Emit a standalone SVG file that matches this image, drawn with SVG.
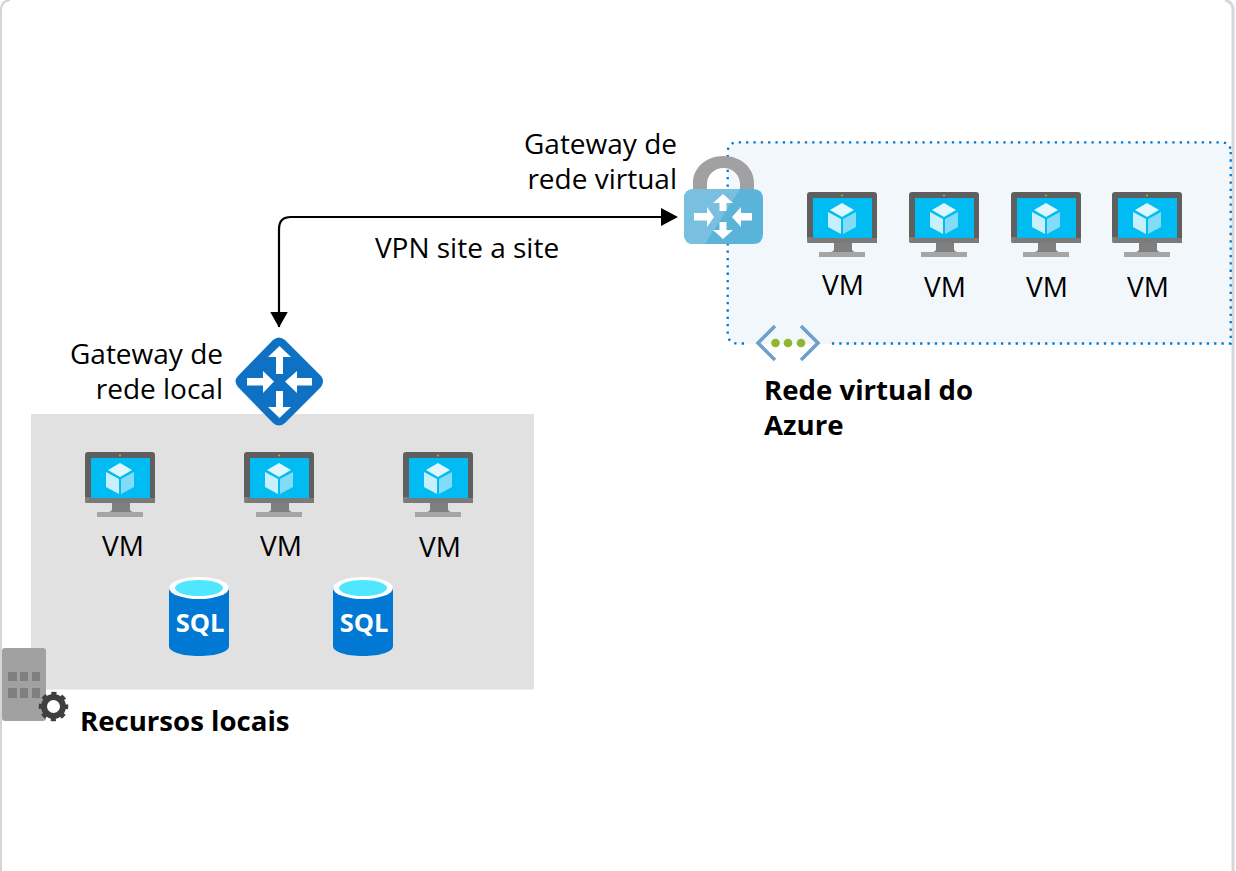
<svg xmlns="http://www.w3.org/2000/svg" width="1236" height="871" viewBox="0 0 1236 871">
<style>
text{font-family:"Open Sans","Noto Sans","Liberation Sans",sans-serif;font-size:28px;fill:#000}
.b{font-weight:700;font-size:27.600px}
.m{text-anchor:middle}
.e{text-anchor:end}
.dots{fill:none;stroke:#0078d4;stroke-width:2.300;stroke-dasharray:2.300 5.050}
</style>
<defs>
<marker id="arrow" markerUnits="userSpaceOnUse" markerWidth="18" markerHeight="18" refX="15.500" refY="9" orient="auto"><path d="M0 0L16 9L0 18Z" fill="#000"/></marker>
<g id="vm">
<rect x="0" y="0" width="70" height="51" rx="3" fill="#5f5f5f"/>
<path d="M0 45V48Q0 51 3 51H67Q70 51 70 48V46H6L12 46Z" fill="#808080"/>
<path d="M6 46L0 51H70V46Z" fill="#7a7a7a"/>
<rect x="6" y="6" width="59" height="40" fill="#00bcf2"/>
<path d="M27 51H45V57.500Q45 59 48 60H24Q27 59 27 57.500Z" fill="#7f7f7f"/>
<rect x="12" y="60" width="46" height="5" fill="#a5a5a5"/>
<circle cx="35" cy="3.500" r="1" fill="#9bbf3b"/>
<path d="M35 11L47 18L35 25L23 18Z" fill="#dff6fd"/>
<path d="M21 20L34 27V42L21 35Z" fill="#c8f0fc"/>
<path d="M49 20L36 27V42L49 35Z" fill="#83dcf7"/>
</g>
<g id="sql">
<path d="M0 10V69C0 75 13 79 30 79C47 79 60 75 60 69V10Z" fill="#0078d4"/>
<ellipse cx="30" cy="11" rx="30" ry="11" fill="#fff"/>
<ellipse cx="30" cy="11" rx="24" ry="8" fill="#50e6ff"/>
<text x="31" y="55" class="m" style="font-size:25.500px;font-weight:700;fill:#fff">SQL</text>
</g>
</defs>
<rect width="1236" height="871" fill="#fff"/>
<path d="M1 871V10Q1 1 10 0" fill="none" stroke="#d4d4dc" stroke-width="2"/>
<path d="M1225 0Q1233 2 1233 10V871" fill="none" stroke="#d8d8dc" stroke-width="3"/>

<g id="azure-vnet">
<rect x="728" y="142" width="503" height="202" rx="10" fill="#f2f7fc"/>
<path class="dots" d="M744 343.500H738Q727.700 343.500 727.700 333V152.500Q727.700 142.300 738 142.300H1221Q1230.700 142.300 1230.700 152"/>
<path class="dots" d="M1230.700 152V343.500H830"/>
<g id="vnet-icon">
<path d="M775 326L758 343L775 360M801 326L818 343L801 360" fill="none" stroke="#6c9fcb" stroke-width="3.500"/>
<circle cx="775.500" cy="343" r="4.300" fill="#8fb62e"/>
<circle cx="788" cy="343" r="4.300" fill="#8fb62e"/>
<circle cx="801" cy="343" r="4.300" fill="#8fb62e"/>
</g>
<text x="764" y="400" class="b">Rede virtual do</text>
<text x="764" y="435" class="b">Azure</text>
</g>

<g id="onprem">
<rect x="31" y="414" width="503" height="275.500" fill="#e1e1e1"/>
<g id="building-icon">
<rect x="2" y="648" width="44" height="73" rx="3" fill="#a1a1a1"/>
<path d="M8 672h9v9H8ZM20 672h8v9H20ZM32 672h8v9H32ZM8 688h9v10H8ZM20 688h8v10H20ZM32 688h8v10H32Z" fill="#7f7f7f"/>
<circle cx="53.500" cy="706.500" r="9.500" fill="#fff" stroke="#3f3f3f" stroke-width="6"/>
<circle cx="53.500" cy="706.500" r="13" fill="none" stroke="#3f3f3f" stroke-width="3.500" stroke-dasharray="5.100 5.110" stroke-dashoffset="2.550"/>
</g>
<text x="80" y="731" class="b">Recursos locais</text>
</g>

<g id="connectors">
<path d="M662 217H291Q279 217 279 229V327" fill="none" stroke="#000" stroke-width="2.200" marker-end="url(#arrow)"/>
<path d="M661 208L678 217L661 226Z" fill="#000"/>
</g>
<text id="vpn-label" x="467" y="258" class="m">VPN site a site</text>

<g id="vnet-gateway">
<path d="M693 190V183C693 167 707 156 723.500 156C740 156 754 167 754 183V190H740V184C740 175 733 168 723.500 168C714 168 707 175 707 184V190Z" fill="#a1a1a3"/>
<path d="M694 189H753Q763 189 763 199V234Q763 244 753 244H694Q684 244 684 234V199Q684 189 694 189Z" fill="#5ab4d9"/>
<path d="M694 189H740L705 244H694Q684 244 684 234V199Q684 189 694 189Z" fill="#79bfe0"/>
<g fill="#fff">
<path d="M723 194L733 203H726.500V211H719.500V203H713Z"/>
<path d="M723 239L733 230H726.500V222H719.500V230H713Z"/>
<path d="M714 217L707 207V213H694V220.500H707V227Z"/>
<path d="M732 217L741 207V213H752V220.500H741V227Z"/>
</g>
<text x="677" y="154" class="e">Gateway de</text>
<text x="677" y="189" class="e">rede virtual</text>
</g>

<g id="local-gateway">
<path d="M273 340Q279 335 285 340L321 376Q325 381 321 387L285 423Q279 428 273 423L238 387Q233 381 238 376Z" fill="#0f71c4"/>
<g fill="#fff">
<path d="M279.500 346L291 357H283V374H276V357H268Z"/>
<path d="M279.500 418L291 407H283V391H276V407H268Z"/>
<path d="M274 381.500L263 371V378H247V385.500H263V393Z"/>
<path d="M285 381.500L297 371V378H312V385.500H297V393Z"/>
</g>
<text x="223" y="364" class="e">Gateway de</text>
<text x="223" y="399" class="e">rede local</text>
</g>

<g id="vm-a1"><use href="#vm" x="807" y="192"/><text x="843" y="295" class="m">VM</text></g>
<g id="vm-a2"><use href="#vm" x="909" y="192"/><text x="945" y="297" class="m">VM</text></g>
<g id="vm-a3"><use href="#vm" x="1011" y="192"/><text x="1047" y="297" class="m">VM</text></g>
<g id="vm-a4"><use href="#vm" x="1112" y="192"/><text x="1148" y="297" class="m">VM</text></g>
<g id="vm-l1"><use href="#vm" x="85" y="452"/><text x="123" y="556" class="m">VM</text></g>
<g id="vm-l2"><use href="#vm" x="244" y="452"/><text x="281" y="556" class="m">VM</text></g>
<g id="vm-l3"><use href="#vm" x="403" y="452"/><text x="440" y="557" class="m">VM</text></g>
<g id="sql-1"><use href="#sql" x="169" y="577"/></g>
<g id="sql-2"><use href="#sql" x="333" y="577"/></g>
</svg>
